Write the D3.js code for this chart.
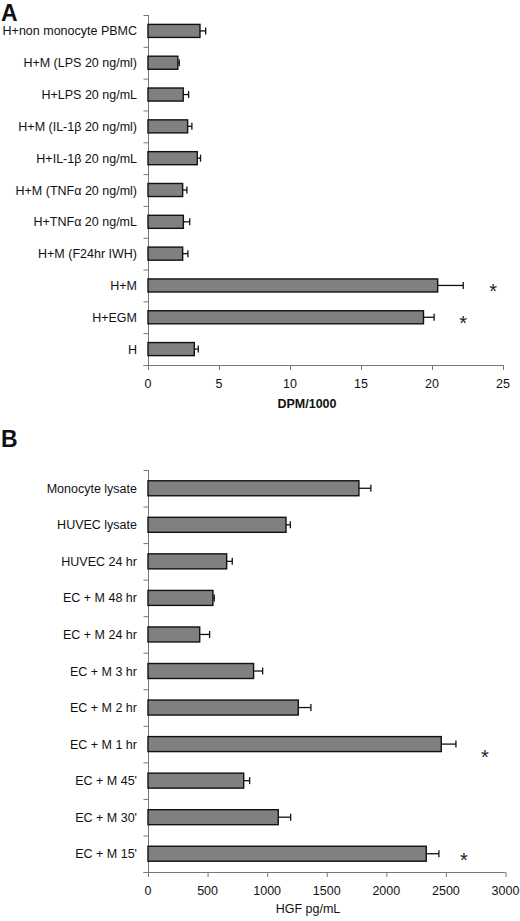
<!DOCTYPE html>
<html><head><meta charset="utf-8">
<script src="https://cdn.jsdelivr.net/npm/d3@7"></script>
<style>body{margin:0;background:#fff}text{font-family:"Liberation Sans",Arial,sans-serif}</style>
</head><body>
<svg id="c" width="520" height="921"></svg>
<script>
const catsA = ["H+non monocyte PBMC","H+M (LPS 20 ng/ml)","H+LPS 20 ng/mL","H+M (IL-1β 20 ng/ml)","H+IL-1β 20 ng/mL","H+M (TNFα 20 ng/ml)","H+TNFα 20 ng/mL","H+M (F24hr IWH)","H+M","H+EGM","H"];
const valsA = [3.66,2.1,2.48,2.79,3.47,2.44,2.49,2.44,20.4,19.4,3.26];
const errsA = [0.4,0.1,0.38,0.3,0.23,0.3,0.45,0.37,1.8,0.75,0.28];
const starA = [false,false,false,false,false,false,false,false,true,true,false];
const ticksA = [0,5,10,15,20,25];

const catsB = ["Monocyte lysate","HUVEC lysate","HUVEC 24 hr","EC + M 48 hr","EC + M 24 hr","EC + M 3 hr","EC + M 2 hr","EC + M 1 hr","EC + M 45'","EC + M 30'","EC + M 15'"];
const valsB = [1770,1158,660,545,434,886,1261,2461,803,1093,2335];
const errsB = [100,36,47,11,83,76,106,123,50,104,106];
const starB = [false,false,false,false,false,false,false,true,false,false,true];
const ticksB = [0,500,1000,1500,2000,2500,3000];

const svg = d3.select("#c");

function panel(o){
  const g = svg.append("g");
  const x = d3.scaleLinear().domain([0, o.ticks[o.ticks.length-1]]).range([148, o.xr]);
  const y = d3.scaleBand().domain(o.cats).range([o.top, o.bottom]).paddingInner(0.59).paddingOuter(0.295);
  const yb = d3.scaleBand().domain(o.cats).range([o.top, o.bottom]);
  g.append("line").attr("x1",148.5).attr("x2",148.5).attr("y1",o.top).attr("y2",o.bottom).attr("stroke","#777").attr("stroke-width",1);
  const bounds = o.cats.map(c=>yb(c)).concat([o.bottom]);
  g.selectAll(".yt").data(bounds).join("line").attr("x1",143.5).attr("x2",148.5)
    .attr("y1",d=>d+0.5).attr("y2",d=>d+0.5).attr("stroke","#777");
  g.append("line").attr("x1",143.5).attr("x2",o.xr).attr("y1",o.bottom+0.5).attr("y2",o.bottom+0.5).attr("stroke","#777");
  g.selectAll(".xt").data(o.ticks).join("line").attr("x1",d=>x(d)+0.5).attr("x2",d=>x(d)+0.5)
    .attr("y1",o.bottom).attr("y2",o.bottom+5).attr("stroke","#777");
  g.selectAll(".xl").data(o.ticks).join("text").attr("x",d=>x(d)).attr("y",o.bottom+23)
    .attr("text-anchor","middle").attr("font-size",12.5).attr("fill","#111").text(d=>d);
  g.selectAll(".yl").data(o.cats).join("text").attr("x",o.labelX).attr("y",d=>y(d)+y.bandwidth()/2+4.5)
    .attr("text-anchor","end").attr("font-size",12.5).attr("fill","#111").text(d=>d);
  g.selectAll(".bar").data(o.cats).join("rect").attr("x",x(0)).attr("y",d=>y(d))
    .attr("width",(d,i)=>x(o.vals[i])-x(0)).attr("height",y.bandwidth())
    .attr("fill","#808080").attr("stroke","#111").attr("stroke-width",1.4);
  g.selectAll(".eb").data(o.cats).join("line").attr("x1",(d,i)=>x(o.vals[i])).attr("x2",(d,i)=>x(o.vals[i]+o.errs[i]))
    .attr("y1",d=>y(d)+y.bandwidth()/2).attr("y2",d=>y(d)+y.bandwidth()/2).attr("stroke","#111").attr("stroke-width",1.3);
  g.selectAll(".ec").data(o.cats).join("line").attr("x1",(d,i)=>x(o.vals[i]+o.errs[i])).attr("x2",(d,i)=>x(o.vals[i]+o.errs[i]))
    .attr("y1",d=>y(d)+y.bandwidth()/2-3.5).attr("y2",d=>y(d)+y.bandwidth()/2+3.5).attr("stroke","#111").attr("stroke-width",1.3);
  const starIdx = o.cats.map((d,i)=>i).filter(i=>o.stars[i]);
  g.selectAll(".st").data(starIdx).join("text")
    .attr("x",(i,k)=>x(o.vals[i]+o.errs[i])+o.starDx[k])
    .attr("y",(i,k)=>y(o.cats[i])+y.bandwidth()/2+o.starDy[k]).attr("text-anchor","middle")
    .attr("font-size",20).attr("fill","#222").text("*");
  g.append("text").attr("x",o.titleX).attr("y",o.bottom+o.titleDy).attr("text-anchor","middle")
    .attr("font-size",12.5).attr("font-weight",o.titleBold?"bold":"normal").attr("fill","#111").text(o.title);
  g.append("text").attr("x",1).attr("y",o.letterY).attr("font-size",23).attr("font-weight","bold").attr("fill","#111").text(o.letter);
}

panel({cats:catsA,vals:valsA,errs:errsA,stars:starA,ticks:ticksA,xr:503,top:15,bottom:365,labelX:137,
  starDx:[30,29],starDy:[13,13],title:"DPM/1000",titleX:307,titleDy:43,titleBold:true,letter:"A",letterY:21});
panel({cats:catsB,vals:valsB,errs:errsB,stars:starB,ticks:ticksB,xr:505.5,top:470,bottom:872,labelX:137,
  starDx:[29,25],starDy:[20,13],title:"HGF pg/mL",titleX:308,titleDy:41,titleBold:false,letter:"B",letterY:447});
</script>
</body></html>
